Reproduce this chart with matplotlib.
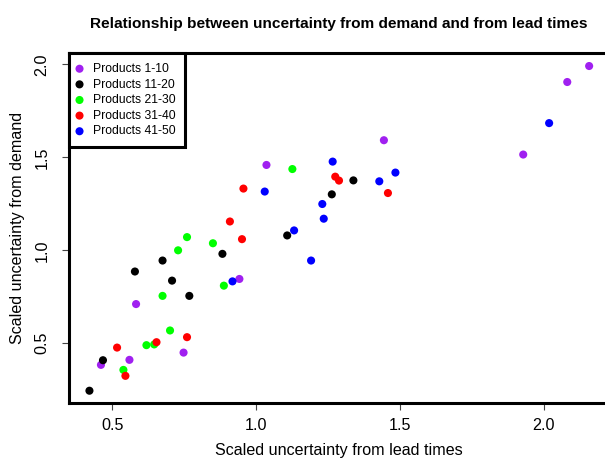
import matplotlib
matplotlib.use("Agg")
import matplotlib.pyplot as plt

plt.rcParams['font.family'] = ['Liberation Sans', 'DejaVu Sans']

groups = ["Products 1-10", "Products 11-20", "Products 21-30", "Products 31-40", "Products 41-50"]
colors = ["#A020F0", "#000000", "#00FF00", "#FF0000", "#0000FF"]

x_purple = [1.444, 1.036, 2.157, 2.081, 1.928, 0.942, 0.583, 0.748, 0.461, 0.560]
y_purple = [1.592, 1.459, 1.991, 1.905, 1.515, 0.846, 0.711, 0.450, 0.384, 0.411]

x_black = [0.883, 0.675, 0.579, 0.708, 0.768, 0.468, 0.421, 1.338, 1.263, 1.108]
y_black = [0.981, 0.945, 0.886, 0.837, 0.755, 0.409, 0.245, 1.376, 1.301, 1.080]

x_green = [0.760, 0.850, 0.729, 0.888, 0.675, 0.701, 0.619, 0.646, 0.539, 1.126]
y_green = [1.071, 1.038, 1.000, 0.810, 0.755, 0.569, 0.490, 0.494, 0.357, 1.437]

x_red = [0.951, 0.760, 0.654, 0.517, 0.546, 1.275, 1.288, 1.458, 0.956, 0.909]
y_red = [1.060, 0.533, 0.506, 0.477, 0.325, 1.396, 1.375, 1.308, 1.332, 1.155]

x_blue = [0.918, 1.266, 1.484, 1.428, 1.030, 1.230, 1.235, 1.132, 1.191, 2.018]
y_blue = [0.833, 1.477, 1.418, 1.371, 1.316, 1.249, 1.170, 1.107, 0.945, 1.684]

xs = [x_purple, x_black, x_green, x_red, x_blue]
ys = [y_purple, y_black, y_green, y_red, y_blue]

xticks = [0.5, 1.0, 1.5, 2.0]
yticks = [0.5, 1.0, 1.5, 2.0]

W, H = 605, 466
fig = plt.figure(figsize=(W / 100, H / 100), dpi=100)
# axes box in pixels: left 69, right ~609, top 53, bottom 403
ax = fig.add_axes([69 / W, (H - 403) / H, 540 / W, 350 / H])

for gx, gy, c, lab in zip(xs, ys, colors, groups):
    ax.scatter(gx, gy, s=34, color=c, edgecolors='none', label=lab, zorder=3)

ax.set_xlim(0.350, 2.226)
ax.set_ylim(0.179, 2.061)
ax.set_xticks(xticks)
ax.set_yticks(yticks)
ax.set_xticklabels([f"{t:.1f}" for t in xticks])
ax.set_yticklabels([f"{t:.1f}" for t in yticks], rotation=90, va='center')

for s in ax.spines.values():
    s.set_linewidth(2.2)
ax.tick_params(axis='both', length=5, width=0.8, color='#444444', labelsize=11.6, direction='out')
ax.tick_params(axis='x', pad=6)
ax.tick_params(axis='y', pad=9)

ax.set_xlabel("Scaled uncertainty from lead times", fontsize=11.6)
ax.set_ylabel("Scaled uncertainty from demand", fontsize=11.6)
ax.xaxis.set_label_coords(0.5, -0.114)
ax.yaxis.set_label_coords(-0.082, 0.5)

ax.set_title("Relationship between uncertainty from demand and from lead times",
             fontsize=11.1, fontweight='bold', pad=18)

leg = ax.legend(loc='upper left', borderaxespad=0, fontsize=8.7, frameon=True,
                fancybox=False, markerscale=1.0, handletextpad=1.05, handlelength=0.1,
                labelspacing=0.3, borderpad=0.82)
fr = leg.get_frame()
fr.set_edgecolor('black')
fr.set_linewidth(2.2)
fr.set_alpha(1)

fig.savefig("out.png", dpi=100)
